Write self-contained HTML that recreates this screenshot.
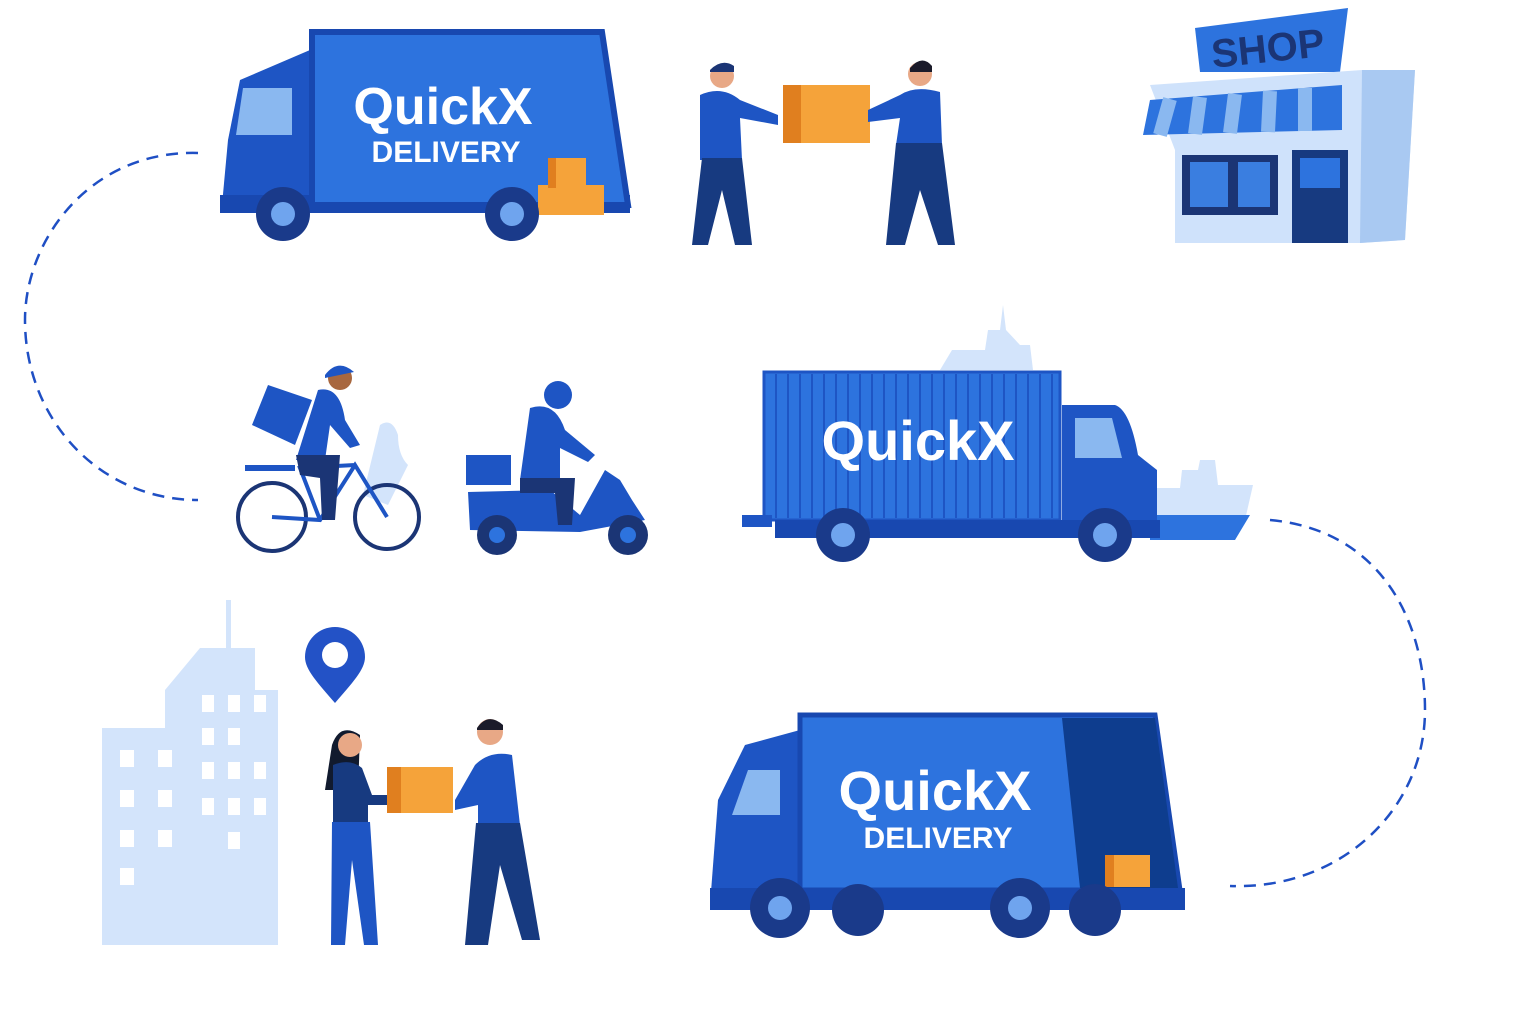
<!DOCTYPE html>
<html><head><meta charset="utf-8"><style>
html,body{margin:0;padding:0;background:#fff;}
svg{display:block}
text{font-family:"Liberation Sans",sans-serif;font-weight:bold;}
</style></head><body>
<svg width="1536" height="1024" viewBox="0 0 1536 1024" xmlns="http://www.w3.org/2000/svg">
<!-- dashed curves -->
<path d="M198,153 C90,150 25,240 25,320 C25,420 100,500 198,500" fill="none" stroke="#1f4fc4" stroke-width="2.5" stroke-dasharray="12,8"/>
<path d="M1270,520 C1380,530 1425,620 1425,710 C1425,810 1340,890 1230,886" fill="none" stroke="#1f4fc4" stroke-width="2.5" stroke-dasharray="12,8"/>

<!-- Truck 1 -->
<g>
<path d="M240,80 L310,50 L310,205 L222,205 L228,140 Z" fill="#1e55c4"/>
<path d="M243,88 L292,88 L292,135 L236,135 Z" fill="#8ab8f0"/>
<rect x="220" y="195" width="410" height="18" fill="#1848b0"/>
<path d="M312,32 L602,32 L628,205 L312,205 Z" fill="#2d73de" stroke="#1848b0" stroke-width="6"/>
<text x="443" y="124" font-size="52" fill="#fff" text-anchor="middle">QuickX</text>
<text x="446" y="162" font-size="30" fill="#fff" text-anchor="middle" font-weight="normal">DELIVERY</text>
<rect x="548" y="158" width="38" height="30" fill="#f5a33a"/>
<rect x="538" y="185" width="66" height="30" fill="#f5a33a"/>
<rect x="548" y="158" width="8" height="30" fill="#e07f1f"/>
<circle cx="283" cy="214" r="27" fill="#1a3a8a"/><circle cx="283" cy="214" r="12" fill="#6fa4ee"/>
<circle cx="512" cy="214" r="27" fill="#1a3a8a"/><circle cx="512" cy="214" r="12" fill="#6fa4ee"/>
</g>

<!-- People exchange top -->
<g>
<circle cx="722" cy="76" r="12" fill="#e8a886"/><path d="M710,70 Q722,58 734,66 L734,72 L710,72Z" fill="#1b3575"/>
<path d="M700,95 Q722,85 740,100 L778,115 L778,125 L740,118 L742,160 L700,160 Z" fill="#1e55c4"/>
<path d="M702,158 L742,158 L752,245 L735,245 L722,190 L708,245 L692,245 Z" fill="#173a80"/>
<rect x="783" y="85" width="87" height="58" fill="#f5a33a"/><rect x="783" y="85" width="18" height="58" fill="#e07f1f"/>
<circle cx="920" cy="74" r="12" fill="#e8a886"/><path d="M910,68 Q922,54 932,66 L932,72 L910,72Z" fill="#1b1b2a"/>
<path d="M940,92 Q915,85 900,95 L868,110 L868,122 L900,118 L896,145 L942,145 Z" fill="#1e55c4"/>
<path d="M896,143 L942,143 L955,245 L938,245 L920,190 L905,245 L886,245 Z" fill="#173a80"/>
</g>

<!-- Shop -->
<g>
<path d="M1195,28 L1348,8 L1340,72 L1200,72 Z" fill="#2d73de"/>
<text x="1268" y="62" font-size="40" fill="#1b3575" text-anchor="middle" transform="rotate(-6 1268 50)">SHOP</text>
<path d="M1150,85 L1362,70 L1415,70 L1405,240 L1360,243 L1175,243 L1175,150 Z" fill="#cfe2fb"/>
<path d="M1362,70 L1415,70 L1405,240 L1360,243 Z" fill="#a9c9f2"/>
<path d="M1150,100 L1342,85 L1342,130 L1143,135 Z" fill="#2d73de"/>
<path d="M1170,99 L1160,135 M1200,97 L1195,134 M1235,94 L1230,133 M1270,91 L1268,132 M1305,88 L1305,131" stroke="#8ab8f0" stroke-width="14"/>
<rect x="1182" y="155" width="96" height="60" fill="#1b3575"/><rect x="1190" y="162" width="38" height="45" fill="#3a7ee0"/><rect x="1238" y="162" width="32" height="45" fill="#3a7ee0"/>
<rect x="1292" y="150" width="56" height="93" fill="#173a80"/><rect x="1300" y="158" width="40" height="30" fill="#2d73de"/>
</g>

<!-- Bike rider -->
<g>
<path d="M380,425 q12,-8 18,10 q0,20 10,30 l-20,40 l-25,-10 z" fill="#d3e4fb"/>
<circle cx="272" cy="517" r="34" fill="none" stroke="#1b3575" stroke-width="4"/>
<circle cx="387" cy="517" r="32" fill="none" stroke="#1b3575" stroke-width="4"/>
<path d="M272,517 L320,520 L355,465 L387,517 M320,520 L300,468 L355,465" fill="none" stroke="#1e55c4" stroke-width="4"/>
<rect x="245" y="465" width="50" height="6" fill="#1e55c4"/>
<path d="M268,385 L312,400 L295,445 L252,425 Z" fill="#1e55c4"/>
<circle cx="340" cy="378" r="12" fill="#a8673f"/><path d="M325,375 Q338,358 354,372 L325,378Z" fill="#1e55c4"/>
<path d="M318,390 Q340,385 345,420 L360,445 L350,448 L330,425 L325,460 L296,460 Z" fill="#1e55c4"/>
<path d="M296,455 L340,455 L335,520 L322,520 L320,478 L300,475 Z" fill="#1b3575"/>
</g>

<!-- Scooter -->
<g>
<rect x="466" y="455" width="45" height="30" fill="#1e55c4"/>
<path d="M468,492 L550,490 L580,515 L605,470 L620,480 L632,500 L645,520 L580,532 L470,530 Z" fill="#1e55c4"/>
<circle cx="497" cy="535" r="20" fill="#1b3575"/><circle cx="497" cy="535" r="8" fill="#2d73de"/>
<circle cx="628" cy="535" r="20" fill="#1b3575"/><circle cx="628" cy="535" r="8" fill="#2d73de"/>
<circle cx="558" cy="395" r="14" fill="#1e55c4"/>
<path d="M530,408 Q555,400 565,430 L595,455 L588,462 L560,448 L560,480 L520,480 Z" fill="#1e55c4"/>
<path d="M520,478 L575,478 L572,525 L558,525 L555,493 L520,493 Z" fill="#1b3575"/>
</g>

<!-- Container truck -->
<g>
<path d="M940,370 L952,350 L985,350 L988,330 L1000,330 L1003,305 L1006,330 L1020,345 L1030,345 L1033,370 Z" fill="#d3e4fb"/>
<path d="M1150,488 L1180,488 L1182,470 L1198,470 L1200,460 L1215,460 L1218,485 L1253,485 L1245,520 L1235,540 L1155,540 Z" fill="#d3e4fb"/>
<path d="M1150,515 L1250,515 L1235,540 L1150,540 Z" fill="#2d73de"/>
<rect x="764" y="372" width="296" height="148" fill="#2d73de" stroke="#1e55c4" stroke-width="3"/>
<g stroke="#1e55c4" stroke-width="2">
<path d="M776,374v144M788,374v144M800,374v144M812,374v144M824,374v144M836,374v144M848,374v144M860,374v144M872,374v144M884,374v144M896,374v144M908,374v144M920,374v144M932,374v144M944,374v144M956,374v144M968,374v144M980,374v144M992,374v144M1004,374v144M1016,374v144M1028,374v144M1040,374v144M1052,374v144"/>
</g>
<text x="918" y="460" font-size="56" fill="#fff" text-anchor="middle">QuickX</text>
<path d="M1062,405 L1115,405 Q1130,410 1138,455 L1157,470 L1157,530 L1062,530 Z" fill="#1e55c4"/>
<path d="M1075,418 L1112,418 L1122,458 L1075,458 Z" fill="#8ab8f0"/>
<rect x="742" y="515" width="30" height="12" fill="#1e55c4"/>
<rect x="775" y="520" width="385" height="18" fill="#1848b0"/>
<circle cx="843" cy="535" r="27" fill="#1a3a8a"/><circle cx="843" cy="535" r="12" fill="#6fa4ee"/>
<circle cx="1105" cy="535" r="27" fill="#1a3a8a"/><circle cx="1105" cy="535" r="12" fill="#6fa4ee"/>
</g>

<!-- City building -->
<g fill="#d3e4fb">
<rect x="226" y="600" width="5" height="50"/>
<path d="M165,690 L200,648 L255,648 L255,690 L278,690 L278,945 L102,945 L102,728 L165,728 Z"/>
</g>
<g fill="#fff">
<rect x="120" y="750" width="14" height="17"/><rect x="158" y="750" width="14" height="17"/>
<rect x="120" y="790" width="14" height="17"/><rect x="158" y="790" width="14" height="17"/>
<rect x="120" y="830" width="14" height="17"/><rect x="158" y="830" width="14" height="17"/>
<rect x="120" y="868" width="14" height="17"/>
<rect x="202" y="695" width="12" height="17"/><rect x="228" y="695" width="12" height="17"/><rect x="254" y="695" width="12" height="17"/>
<rect x="202" y="728" width="12" height="17"/><rect x="228" y="728" width="12" height="17"/>
<rect x="202" y="762" width="12" height="17"/><rect x="228" y="762" width="12" height="17"/><rect x="254" y="762" width="12" height="17"/>
<rect x="202" y="798" width="12" height="17"/><rect x="228" y="798" width="12" height="17"/><rect x="254" y="798" width="12" height="17"/>
<rect x="228" y="832" width="12" height="17"/>
</g>

<!-- Pin -->
<path d="M335,703 C318,683 305,670 305,657 A30,30 0 0 1 365,657 C365,670 352,683 335,703 Z" fill="#2352c6"/>
<circle cx="335" cy="655" r="13" fill="#fff"/>

<!-- people bottom -->
<g>
<path d="M332,745 Q340,722 360,735 L358,790 L325,790 Z" fill="#111a2e"/>
<circle cx="350" cy="745" r="12" fill="#e8a886"/>
<path d="M333,765 Q350,758 362,768 L372,795 L390,795 L390,805 L368,805 L368,825 L333,825 Z" fill="#173a80"/>
<path d="M332,822 L370,822 L378,945 L364,945 L352,860 L345,945 L331,945 Z" fill="#1e55c4"/>
<rect x="387" y="767" width="66" height="46" fill="#f5a33a"/><rect x="387" y="767" width="14" height="46" fill="#e07f1f"/>
<circle cx="490" cy="732" r="13" fill="#e8a886"/><path d="M477,728 Q488,712 503,725 L503,730 L477,730Z" fill="#1b1b2a"/>
<path d="M512,755 Q490,750 475,765 L455,800 L455,810 L478,805 L478,825 L520,825 Z" fill="#1e55c4"/>
<path d="M476,823 L520,823 L540,940 L522,940 L500,865 L488,945 L465,945 Z" fill="#173a80"/>
</g>

<!-- Truck 3 -->
<g>
<path d="M745,745 L800,730 L800,905 L710,905 L718,800 Z" fill="#1e55c4"/>
<path d="M748,770 L780,770 L780,815 L732,815 Z" fill="#8ab8f0"/>
<path d="M800,715 L1155,715 L1180,890 L800,890 Z" fill="#2d73de" stroke="#1848b0" stroke-width="5"/>
<path d="M1062,718 L1155,718 L1178,888 L1080,888 Z" fill="#0e3d8e"/>
<text x="935" y="810" font-size="56" fill="#fff" text-anchor="middle">QuickX</text>
<text x="938" y="848" font-size="30" fill="#fff" text-anchor="middle" font-weight="normal">DELIVERY</text>
<rect x="1105" y="855" width="45" height="32" fill="#f5a33a"/><rect x="1105" y="855" width="9" height="32" fill="#e07f1f"/>
<rect x="710" y="888" width="475" height="22" fill="#1848b0"/>
<circle cx="780" cy="908" r="30" fill="#1a3a8a"/><circle cx="780" cy="908" r="12" fill="#6fa4ee"/>
<circle cx="858" cy="910" r="26" fill="#1a3a8a"/>
<circle cx="1020" cy="908" r="30" fill="#1a3a8a"/><circle cx="1020" cy="908" r="12" fill="#6fa4ee"/>
<circle cx="1095" cy="910" r="26" fill="#1a3a8a"/>
</g>
</svg>
</body></html>
